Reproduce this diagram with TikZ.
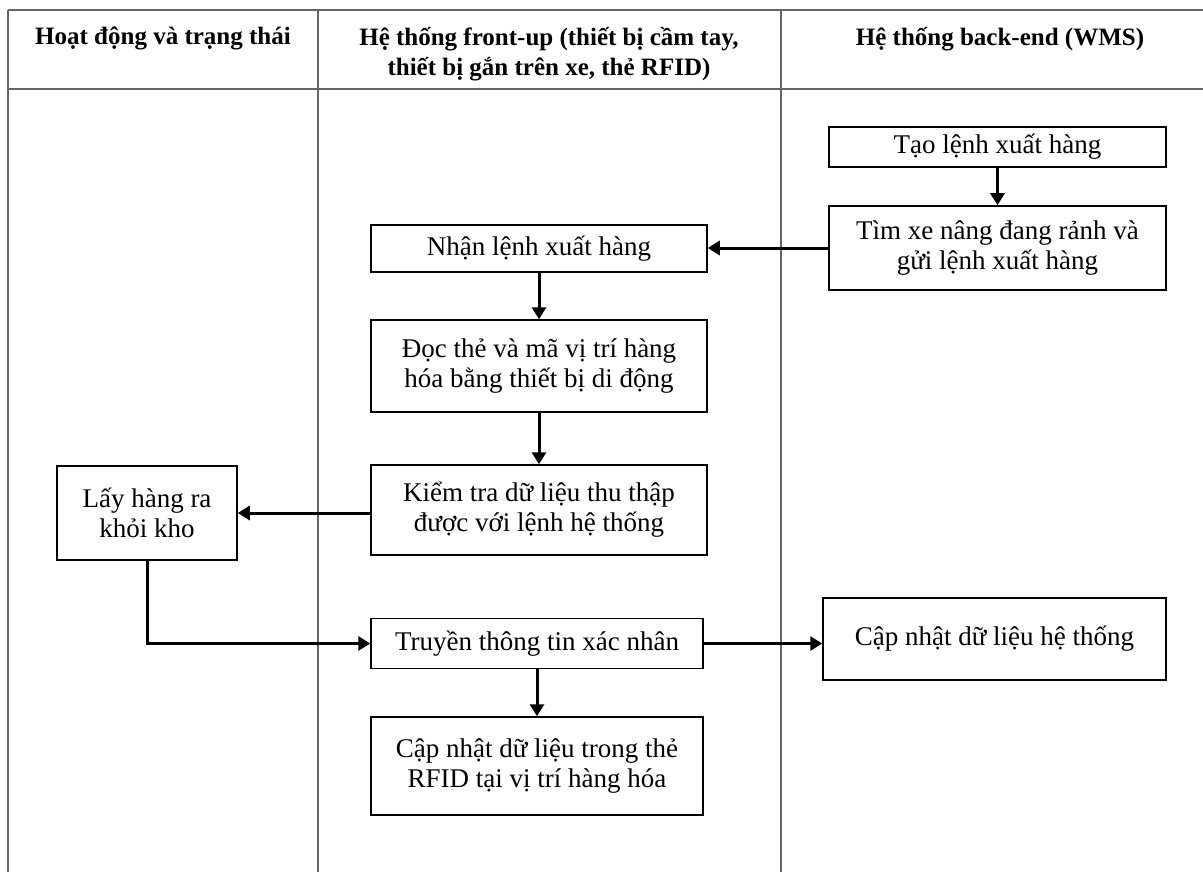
\documentclass[tikz,border=0pt]{standalone}
\usepackage{fontspec}
\setmainfont{Liberation Serif}
\usetikzlibrary{arrows.meta}
\begin{document}
\begin{tikzpicture}[x=1pt,y=-1pt,
  box/.style={draw, line width=1.5pt, align=center, inner sep=0pt, font=\fontsize{27}{30}\selectfont},
  hdr/.style={align=center, inner sep=0pt, font=\fontsize{25}{30}\selectfont\bfseries, anchor=north},
  arr/.style={line width=3pt, -{Triangle[length=12pt,width=14pt]}},
  grid/.style={draw=black!60, line width=2.2pt}]
\useasboundingbox (0,0) rectangle (1203,872);
% table
\draw[grid] (8,10) -- (1210,10);
\draw[grid] (8,89) -- (1210,89);
\draw[grid] (8,10) -- (8,880);
\draw[grid] (318,10) -- (318,880);
\draw[grid] (781,10) -- (781,880);
% headers
\node[hdr] (h1) at (163,27) {Hoạt động và trạng thái};
\node[hdr] (h2) at (549,27) {Hệ thống front-up (thiết bị cầm tay,\\thiết bị gắn trên xe, thẻ RFID)};
\node[hdr] (h3) at (1000,27) {Hệ thống back-end (WMS)};
% boxes
\node[box, minimum width=337, minimum height=40] (tao) at (997.5,147) {Tạo lệnh xuất hàng};
\node[box, minimum width=337, minimum height=84] (tim) at (997.5,248) {Tìm xe nâng đang rảnh và\\gửi lệnh xuất hàng};
\node[box, minimum width=336, minimum height=47] (nhan) at (539,248.5) {Nhận lệnh xuất hàng};
\node[box, minimum width=336, minimum height=92] (doc) at (539,366) {Đọc thẻ và mã vị trí hàng\\hóa bằng thiết bị di động};
\node[box, minimum width=336, minimum height=90] (kiem) at (539,510) {Kiểm tra dữ liệu thu thập\\được với lệnh hệ thống};
\node[box, minimum width=180, minimum height=94] (lay) at (147,513) {Lấy hàng ra\\khỏi kho};
\node[box, minimum width=332, minimum height=50] (truyen) at (537,643.5) {Truyền thông tin xác nhân};
\node[box, minimum width=332, minimum height=98] (capthe) at (537,766) {Cập nhật dữ liệu trong thẻ\\RFID tại vị trí hàng hóa};
\node[box, minimum width=343, minimum height=82] (caphe) at (994.5,639) {Cập nhật dữ liệu hệ thống};
% arrows
\draw[arr] (tao) -- (tim);
\draw[arr] (tim.west) -- (tim.west -| nhan.east);
\draw[arr] (nhan) -- (doc);
\draw[arr] (doc) -- (kiem);
\draw[arr] (kiem.west |- lay.east) -- (lay.east);
\draw[arr] (lay.south) |- (truyen.west);
\draw[arr] (truyen.east) -- (truyen.east -| caphe.west);
\draw[arr] (truyen) -- (capthe);
\end{tikzpicture}
\end{document}
